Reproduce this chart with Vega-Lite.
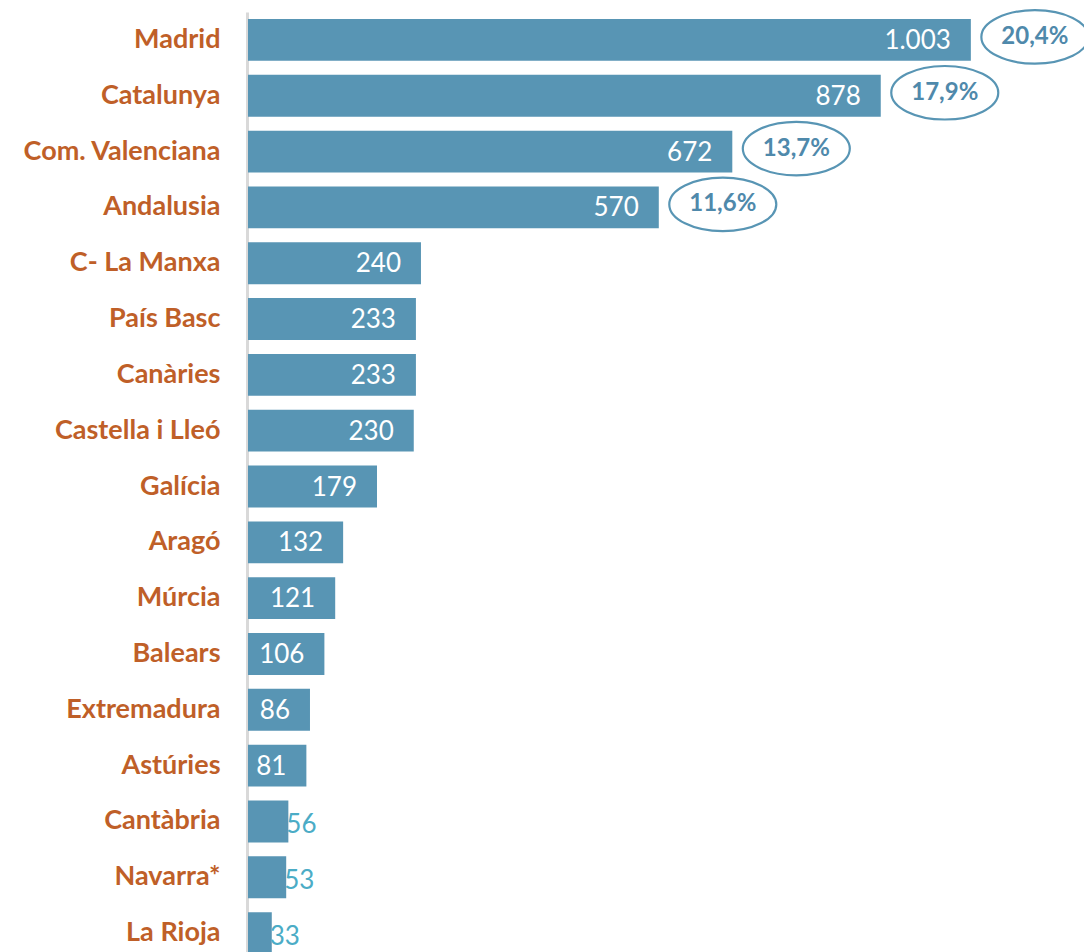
{
  "$schema": "https://vega.github.io/schema/vega-lite/v6.json",
  "autosize": {"type": "none"},
  "padding": {"left": 248, "top": 12, "right": 0, "bottom": 0},
  "width": 836,
  "height": 940,
  "background": "white",
  "config": {
    "view": {"stroke": null},
    "locale": {"number": {"decimal": ",", "thousands": ".", "grouping": [3], "currency": ["", " €"]}}
  },
  "data": {"values": [
    {"region": "Madrid", "value": 1003, "pct": "20,4%"},
    {"region": "Catalunya", "value": 878, "pct": "17,9%"},
    {"region": "Com. Valenciana", "value": 672, "pct": "13,7%"},
    {"region": "Andalusia", "value": 570, "pct": "11,6%"},
    {"region": "C- La Manxa", "value": 240},
    {"region": "País Basc", "value": 233},
    {"region": "Canàries", "value": 233},
    {"region": "Castella i Lleó", "value": 230},
    {"region": "Galícia", "value": 179},
    {"region": "Aragó", "value": 132},
    {"region": "Múrcia", "value": 121},
    {"region": "Balears", "value": 106},
    {"region": "Extremadura", "value": 86},
    {"region": "Astúries", "value": 81},
    {"region": "Cantàbria", "value": 56},
    {"region": "Navarra*", "value": 53},
    {"region": "La Rioja", "value": 33}
  ]},
  "encoding": {
    "y": {
      "field": "region", "type": "nominal", "sort": null,
      "scale": {"range": [0, 949], "paddingInner": 0.25, "paddingOuter": 0.125},
      "axis": {
        "title": null, "ticks": false, "domain": true, "domainColor": "#d9d9d9", "domainWidth": 3, "offset": 1,
        "labelFont": "Lato", "labelFontSize": 27, "labelFontWeight": "bold", "labelColor": "#BF5F28",
        "labelPadding": 27, "labelLimit": 300
      }
    },
    "x": {
      "field": "value", "type": "quantitative",
      "scale": {"domain": [0, 1160], "nice": false},
      "axis": null
    }
  },
  "layer": [
    {"mark": {"type": "bar", "color": "#5895B4"}},
    {
      "transform": [{"filter": "datum.value >= 60"}],
      "mark": {"type": "text", "align": "right", "baseline": "middle", "dx": -20, "dy": 1, "font": "Lato", "fontSize": 26, "color": "white"},
      "encoding": {"text": {"field": "value", "type": "quantitative", "format": ",d"}}
    },
    {
      "transform": [{"filter": "datum.value < 60"}],
      "mark": {"type": "text", "align": "left", "baseline": "middle", "dx": -2, "dy": 4, "font": "Lato", "fontSize": 26, "color": "#4BACC6"},
      "encoding": {"text": {"field": "value", "type": "quantitative"}}
    },
    {
      "transform": [{"filter": "isValid(datum.pct)"}],
      "mark": {"type": "point", "shape": "M -1 0 A 1 0.5 0 1 1 1 0 A 1 0.5 0 1 1 -1 0 Z", "size": 11449, "filled": false, "stroke": "#5895B4", "strokeWidth": 2.2, "opacity": 1, "xOffset": 64, "yOffset": -3}
    },
    {
      "transform": [{"filter": "isValid(datum.pct)"}],
      "mark": {"type": "text", "align": "center", "baseline": "middle", "dx": 64, "dy": -3, "font": "Lato", "fontSize": 24, "fontWeight": "bold", "color": "#4F89AB"},
      "encoding": {"text": {"field": "pct", "type": "nominal"}}
    }
  ]
}
